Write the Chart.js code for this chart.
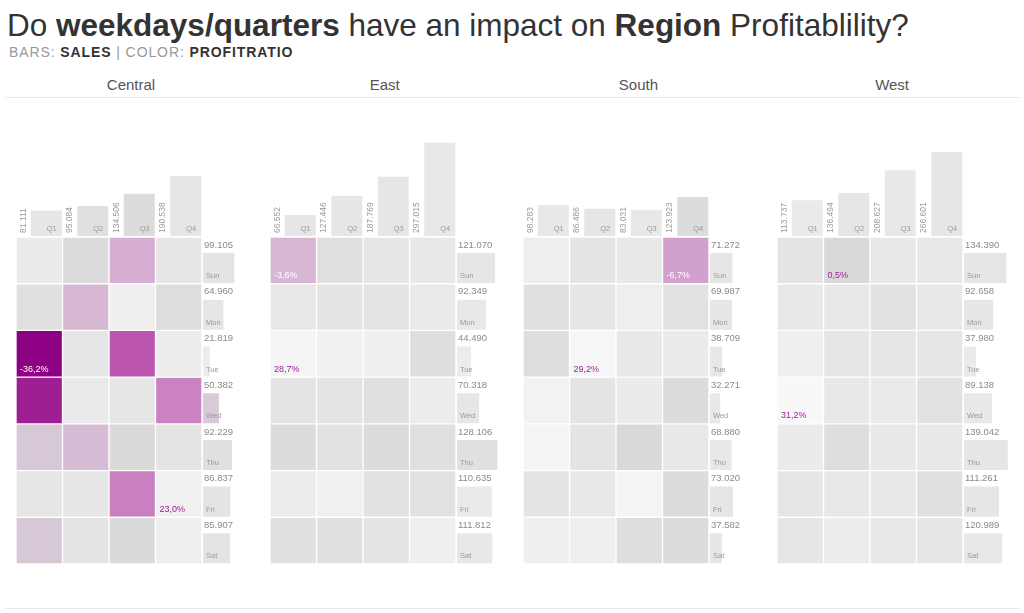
<!DOCTYPE html>
<html><head><meta charset="utf-8">
<script src="https://cdn.jsdelivr.net/npm/chart.js@4.4.0/dist/chart.umd.min.js"></script>
<style>
html,body{margin:0;padding:0;background:#fff;}
#root{position:relative;width:1024px;height:613px;overflow:hidden;font-family:'Liberation Sans',Arial,sans-serif;}
#title{position:absolute;left:7px;top:10px;font-size:31.5px;line-height:31.5px;color:#333;white-space:nowrap;}
#subtitle{position:absolute;left:9px;top:45px;font-size:14px;line-height:14px;letter-spacing:0.9px;color:#999;white-space:nowrap;}
#subtitle b{color:#333;}
.hdr{position:absolute;top:77px;width:200px;margin-left:-100px;text-align:center;font-size:15px;line-height:15px;color:#555;}
.rule{position:absolute;left:5px;width:1015px;height:1px;background:#e9e9e9;}
canvas{position:absolute;}
</style></head>
<body><div id="root">
<div id="title">Do <b>weekdays/quarters</b> have an impact on <b>Region</b> Profitablility?</div>
<div id="subtitle">BARS: <b>SALES</b> | COLOR: <b>PROFITRATIO</b></div>
<div class="rule" style="top:97px"></div>
<div class="rule" style="top:608px"></div>
</div>
<script>
const regions = ['Central','East','South','West'];
const quarters = ['Q1','Q2','Q3','Q4'];
const weekdays = ['Sun','Mon','Tue','Wed','Thu','Fri','Sat'];

// Sales by quarter (top bars)
const salesQuarterCentral = [81111, 95084, 134506, 190538];
const salesQuarterEast    = [66552, 127446, 187769, 297015];
const salesQuarterSouth   = [98283, 86486, 83031, 123923];
const salesQuarterWest    = [113737, 136494, 208627, 266601];

// Sales by weekday (right bars)
const salesWeekdayCentral = [99105, 64960, 21819, 50382, 92229, 86837, 85907];
const salesWeekdayEast    = [121070, 92349, 44490, 70318, 128106, 110635, 111812];
const salesWeekdaySouth   = [71272, 69987, 38709, 32271, 68880, 73020, 37582];
const salesWeekdayWest    = [134390, 92658, 37980, 89138, 139042, 111261, 120989];

// Profit ratio of the bars (colour)
const ratioQuarterCentral = [0.137, 0.078, 0.039, 0.137];
const ratioQuarterEast    = [0.137, 0.137, 0.137, 0.156];
const ratioQuarterSouth   = [0.156, 0.137, 0.156, 0.039];
const ratioQuarterWest    = [0.176, 0.137, 0.156, 0.137];

const ratioWeekdayCentral = [0.117, 0.137, 0.195, -0.012, 0.078, 0.117, 0.117];
const ratioWeekdayEast    = [0.137, 0.156, 0.195, 0.137, 0.078, 0.176, 0.156];
const ratioWeekdaySouth   = [0.137, 0.137, 0.156, 0.156, 0.156, 0.137, 0.137];
const ratioWeekdayWest    = [0.137, 0.137, 0.176, 0.156, 0.137, 0.137, 0.156];

// Profit ratio per cell: rows Sun..Sat, columns Q1..Q4
const ratioCellsCentral = [
  [0.185, 0.039, -0.047, 0.137],
  [0.078, -0.033, 0.224, 0.049],
  [-0.362, 0.137, -0.194, 0.195],
  [-0.300, 0.176, 0.137, -0.114],
  [-0.014, -0.028, 0.020, 0.117],
  [0.137, 0.137, -0.120, 0.230],
  [-0.014, 0.117, 0.020, 0.214]
];
const ratioCellsEast = [
  [-0.036, 0.078, 0.137, 0.156],
  [0.156, 0.117, 0.117, 0.176],
  [0.287, 0.234, 0.224, 0.059],
  [0.117, 0.117, 0.078, 0.195],
  [0.039, 0.098, 0.039, 0.078],
  [0.195, 0.234, 0.098, 0.098],
  [0.078, 0.078, 0.117, 0.224]
];
const ratioCellsSouth = [
  [0.215, 0.117, 0.156, -0.067],
  [0.078, 0.137, 0.215, 0.098],
  [0.059, 0.292, 0.156, 0.176],
  [0.254, 0.117, 0.185, 0.039],
  [0.283, 0.117, 0.008, 0.156],
  [0.117, 0.156, 0.273, 0.039],
  [0.224, 0.224, 0.059, 0.039]
];
const ratioCellsWest = [
  [0.117, 0.005, 0.156, 0.156],
  [0.156, 0.156, 0.098, 0.156],
  [0.224, 0.137, 0.137, 0.137],
  [0.312, 0.156, 0.176, 0.098],
  [0.185, 0.059, 0.156, 0.156],
  [0.137, 0.156, 0.156, 0.078],
  [0.137, 0.195, 0.156, 0.137]
];

const regionTable = {
  Central: {sq: salesQuarterCentral, sw: salesWeekdayCentral, rq: ratioQuarterCentral, rw: ratioWeekdayCentral, cells: ratioCellsCentral},
  East:    {sq: salesQuarterEast,    sw: salesWeekdayEast,    rq: ratioQuarterEast,    rw: ratioWeekdayEast,    cells: ratioCellsEast},
  South:   {sq: salesQuarterSouth,   sw: salesWeekdaySouth,   rq: ratioQuarterSouth,   rw: ratioWeekdaySouth,   cells: ratioCellsSouth},
  West:    {sq: salesQuarterWest,    sw: salesWeekdayWest,    rq: ratioQuarterWest,    rw: ratioWeekdayWest,    cells: ratioCellsWest}
};

const FONT = "'Liberation Sans', Arial, sans-serif";
const PX_PER_UNIT = 0.000315;

function ratioColor(v){
  if (v >= 0){
    const g = Math.round(216 + Math.min(v, 0.312) / 0.312 * 32);
    return `rgb(${g},${g},${g})`;
  }
  const t = Math.min(-v / 0.362, 1);
  const r = Math.round(216 - 74 * Math.pow(t, 1.5));
  const g = Math.round(216 - 216 * Math.pow(t, 0.8));
  const b = Math.round(216 - 85 * Math.pow(t, 1.2));
  return `rgb(${r},${g},${b})`;
}
const fmtNum = v => String(v).replace(/\B(?=(\d{3})+(?!\d))/g, '.');
const fmtPct = v => (v * 100).toFixed(1).replace('.', ',') + '%';

const root = document.getElementById('root');
function makeCanvas(left, top, w, h){
  const c = document.createElement('canvas');
  c.width = w; c.height = h;
  c.style.left = left + 'px'; c.style.top = top + 'px';
  c.style.width = w + 'px'; c.style.height = h + 'px';
  root.appendChild(c);
  return c;
}
const baseOpts = () => ({
  responsive: false, animation: false, events: [],
  plugins: {legend: {display: false}, tooltip: {enabled: false}}
});

regions.forEach((name, r) => {
  const d = regionTable[name];
  const X0 = 17 + 253.7 * r;
  const hmLeft = Math.round(X0) - 1;

  // header
  const h = document.createElement('div');
  h.className = 'hdr';
  h.style.left = (X0 + 114) + 'px';
  h.textContent = name;
  root.appendChild(h);

  // heatmap
  const flat = d.cells.flat();
  const vmin = Math.min(...flat), vmax = Math.max(...flat);
  const cellLabels = {
    id: 'cellLabels' + r,
    afterDatasetsDraw(chart){
      const ctx = chart.ctx;
      ctx.save();
      ctx.font = '9px ' + FONT;
      ctx.textBaseline = 'middle';
      ctx.textAlign = 'left';
      chart.data.datasets.forEach((ds, i) => {
        chart.getDatasetMeta(i).data.forEach((bar, j) => {
          const v = d.cells[i][j];
          if (v !== vmin && v !== vmax) return;
          const bottom = Math.max(bar.y, bar.base);
          const left = bar.x - bar.width / 2;
          ctx.fillStyle = v < 0 ? '#ffffff' : '#a3199b';
          ctx.fillText(fmtPct(v), left + 4, bottom - 8);
        });
      });
      ctx.restore();
    }
  };
  new Chart(makeCanvas(hmLeft, 237, 186, 327), {
    type: 'bar',
    data: {
      labels: quarters,
      datasets: weekdays.map((wd, i) => ({
        label: wd,
        data: d.cells[i].map(() => 1),
        backgroundColor: d.cells[i].map(ratioColor),
        borderColor: '#ffffff', borderWidth: 1, borderSkipped: false,
        categoryPercentage: 1, barPercentage: 1
      }))
    },
    options: Object.assign(baseOpts(), {
      layout: {padding: 0},
      scales: {
        x: {display: false, stacked: true},
        y: {display: false, stacked: true, reverse: true, min: 0, max: weekdays.length}
      }
    }),
    plugins: [cellLabels]
  });

  // top bars (quarters)
  const topH = 136;
  const topLabels = {
    id: 'topLabels' + r,
    afterDatasetsDraw(chart){
      const ctx = chart.ctx;
      ctx.save();
      chart.getDatasetMeta(0).data.forEach((bar, j) => {
        const left = bar.x - bar.width / 2, right = bar.x + bar.width / 2;
        const bottom = bar.base;
        ctx.save();
        ctx.translate(left - 7.5, bottom - 3);
        ctx.rotate(-Math.PI / 2);
        ctx.font = '8.5px ' + FONT;
        ctx.fillStyle = '#9a9a9a';
        ctx.textAlign = 'left';
        ctx.textBaseline = 'middle';
        ctx.fillText(fmtNum(d.sq[j]), 0, 0);
        ctx.restore();
        ctx.font = '7.5px ' + FONT;
        ctx.fillStyle = '#9a9a9a';
        ctx.textAlign = 'right';
        ctx.textBaseline = 'middle';
        ctx.fillText(quarters[j], right - 5, bottom - 7);
      });
      ctx.restore();
    }
  };
  new Chart(makeCanvas(hmLeft + 7 - 10, 100, 196, topH), {
    type: 'bar',
    data: {labels: quarters, datasets: [{
      data: d.sq, backgroundColor: d.rq.map(ratioColor),
      categoryPercentage: 1, barPercentage: 31 / 46.5
    }]},
    options: Object.assign(baseOpts(), {
      layout: {padding: {left: 10, right: 0, top: 0, bottom: 0}},
      scales: {x: {display: false}, y: {display: false, min: 0, max: topH / PX_PER_UNIT}}
    }),
    plugins: [topLabels]
  });

  // right bars (weekdays)
  const rightW = 60;
  const rightLabels = {
    id: 'rightLabels' + r,
    afterDatasetsDraw(chart){
      const ctx = chart.ctx;
      ctx.save();
      chart.getDatasetMeta(0).data.forEach((bar, i) => {
        const top = bar.y - bar.height / 2, bottom = bar.y + bar.height / 2;
        const left = bar.base;
        ctx.textAlign = 'left';
        ctx.textBaseline = 'middle';
        ctx.font = '9.5px ' + FONT;
        ctx.fillStyle = '#8a8a8a';
        ctx.fillText(fmtNum(d.sw[i]), left + 1, top - 8);
        ctx.font = '7.5px ' + FONT;
        ctx.fillStyle = '#9a9a9a';
        ctx.fillText(weekdays[i], left + 3, bottom - 7);
      });
      ctx.restore();
    }
  };
  new Chart(makeCanvas(hmLeft + 187, 230, rightW, 342), {
    type: 'bar',
    data: {labels: weekdays, datasets: [{
      data: d.sw, backgroundColor: d.rw.map(ratioColor),
      categoryPercentage: 1, barPercentage: 30 / 46.7
    }]},
    options: Object.assign(baseOpts(), {
      indexAxis: 'y',
      layout: {padding: {left: 0, right: 0, top: 14.7, bottom: 0.3}},
      scales: {x: {display: false, min: 0, max: rightW / PX_PER_UNIT}, y: {display: false}}
    }),
    plugins: [rightLabels]
  });
});
</script>
</body></html>
